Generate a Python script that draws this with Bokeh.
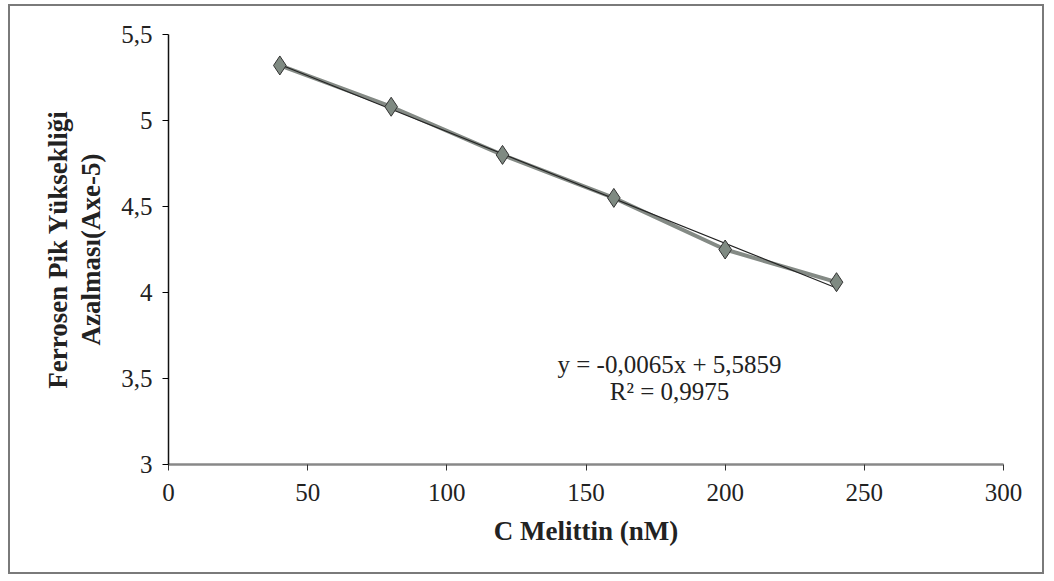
from bokeh.plotting import figure
from bokeh.models import Range1d, FixedTicker, Label
from bokeh.embed import file_html
from bokeh.resources import INLINE

conc = [40, 80, 120, 160, 200, 240]
peak = [5.32, 5.08, 4.80, 4.55, 4.25, 4.06]
slope = -0.0065
intercept = 5.5859
x_ticks = [0, 50, 100, 150, 200, 250, 300]
y_ticks = [3, 3.5, 4, 4.5, 5, 5.5]
y_labels = ["3", "3,5", "4", "4,5", "5", "5,5"]

FONT = "Liberation Serif"

p = figure(width=1036, height=570, output_backend="svg", toolbar_location=None,
           x_range=Range1d(0, 300), y_range=Range1d(3, 5.5),
           min_border_left=158, min_border_right=43, min_border_top=28, min_border_bottom=112)
p.styles = {"margin-left": "8px", "margin-top": "4px", "border": "2px solid #7a7a7a"}
p.outline_line_color = None
p.grid.grid_line_color = None
p.background_fill_color = "white"

# Data series
p.line(conc, peak, line_color="#848a85", line_width=4)
# trendline
tx = [conc[0], conc[-1]]
ty = [slope * v + intercept for v in tx]
p.line(tx, ty, line_color="#222222", line_width=1.2)
p.scatter(conc, peak, marker="diamond", size=19, fill_color="#7f8a82",
          line_color="#333333", line_width=1)

p.xaxis.ticker = FixedTicker(ticks=x_ticks)
p.yaxis.ticker = FixedTicker(ticks=y_ticks)
p.yaxis.major_label_overrides = {t: l for t, l in zip(y_ticks, y_labels)}
for ax in (p.xaxis, p.yaxis):
    ax.major_label_text_font = FONT
    ax.major_label_text_font_size = "25px"
    ax.major_label_text_color = "#222222"
    ax.axis_label_text_font = FONT
    ax.axis_label_text_font_size = "27px"
    ax.axis_label_text_font_style = "bold"
    ax.axis_label_text_color = "#222222"
    ax.minor_tick_line_color = None
    ax.major_tick_in = 0
    ax.major_tick_out = 6

p.xaxis.axis_line_color = "#888888"
p.xaxis.axis_line_width = 2.5
p.xaxis.major_tick_line_color = "#333333"
p.xaxis.major_label_standoff = 13
p.xaxis.axis_label = "C Melittin (nM)"
p.xaxis.axis_label_standoff = 12

p.yaxis.axis_line_color = "#111111"
p.yaxis.axis_line_width = 1.5
p.yaxis.major_label_standoff = 10
p.yaxis.axis_label = "Ferrosen Pik Yüksekliği\nAzalması(Axe-5)"
p.yaxis.axis_label_text_line_height = 1.1
p.yaxis.axis_label_standoff = 12

p.add_layout(Label(x=180, y=3.657, text="y = -0,0065x + 5,5859\nR² = 0,9975",
                   text_font=FONT, text_font_size="25px", text_color="#222222",
                   text_align="center", text_baseline="top", text_line_height=1.0))

open("out.html", "w").write(file_html(p, INLINE))
